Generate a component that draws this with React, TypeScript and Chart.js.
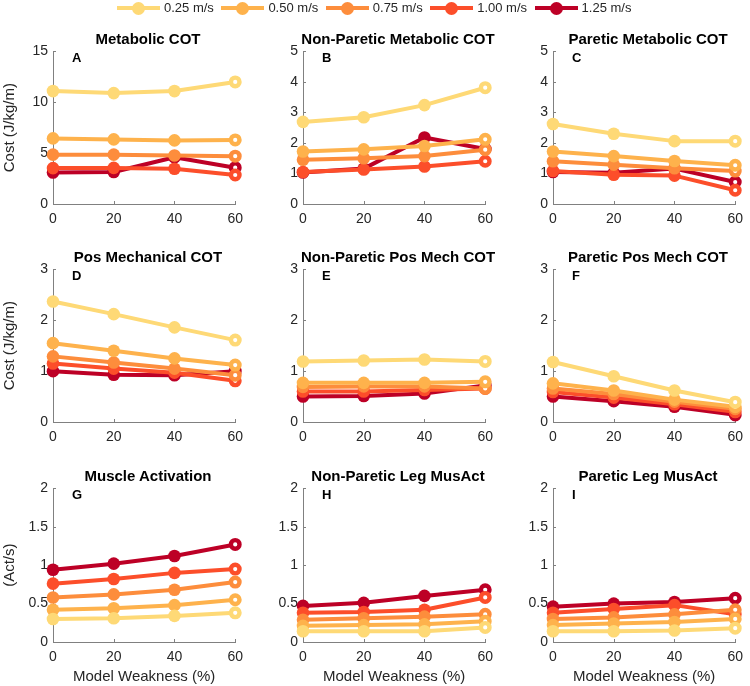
import React, { useEffect, useRef } from "react";
import { Chart, registerables } from "chart.js";
Chart.register(...registerables);

// ---------- data ----------
const weakness = [0, 20, 40, 60];
const speeds = ["0.25 m/s", "0.50 m/s", "0.75 m/s", "1.00 m/s", "1.25 m/s"];
const colors = ["#fed976", "#feb24c", "#fd8d3c", "#fc4e2a", "#bd0026"];

// each: one row per speed (0.25 .. 1.25), values at weakness 0/20/40/60
const metabolicCOT = [
  [11.1, 10.9, 11.1, 12.0],
  [6.45, 6.35, 6.25, 6.3],
  [4.85, 4.85, 4.77, 4.7],
  [3.53, 3.55, 3.47, 2.85],
  [3.1, 3.15, 4.6, 3.57],
];
const nonPareticMetCOT = [
  [2.69, 2.84, 3.24, 3.81],
  [1.72, 1.79, 1.9, 2.12],
  [1.45, 1.5, 1.57, 1.78],
  [1.05, 1.13, 1.23, 1.4],
  [1.03, 1.16, 2.18, 1.8],
];
const pareticMetCOT = [
  [2.62, 2.3, 2.06, 2.06],
  [1.72, 1.57, 1.41, 1.27],
  [1.4, 1.29, 1.17, 1.08],
  [1.08, 0.96, 0.93, 0.45],
  [1.05, 1.02, 1.16, 0.72],
];
const posMechCOT = [
  [2.37, 2.12, 1.86, 1.61],
  [1.55, 1.4, 1.25, 1.12],
  [1.29, 1.17, 1.05, 0.92],
  [1.15, 1.05, 0.97, 0.81],
  [1.0, 0.93, 0.92, 1.0],
];
const nonPareticPosMech = [
  [1.19, 1.21, 1.23, 1.19],
  [0.77, 0.77, 0.77, 0.79],
  [0.69, 0.7, 0.7, 0.66],
  [0.6, 0.6, 0.63, 0.66],
  [0.5, 0.51, 0.56, 0.72],
];
const pareticPosMech = [
  [1.18, 0.9, 0.62, 0.39],
  [0.76, 0.62, 0.44, 0.3],
  [0.66, 0.55, 0.4, 0.26],
  [0.59, 0.48, 0.35, 0.2],
  [0.5, 0.41, 0.3, 0.14],
];
const muscleActivation = [
  [0.3, 0.31, 0.34, 0.38],
  [0.42, 0.44, 0.48, 0.55],
  [0.58, 0.62, 0.68, 0.78],
  [0.76, 0.82, 0.9, 0.95],
  [0.94, 1.02, 1.12, 1.27],
];
const nonPareticMusAct = [
  [0.14, 0.14, 0.14, 0.19],
  [0.21, 0.22, 0.23, 0.27],
  [0.29, 0.31, 0.33, 0.36],
  [0.38, 0.39, 0.42, 0.58],
  [0.47, 0.51, 0.6, 0.68],
];
const pareticMusAct = [
  [0.14, 0.14, 0.15, 0.18],
  [0.22, 0.24, 0.26, 0.3],
  [0.3, 0.32, 0.36, 0.42],
  [0.38, 0.43, 0.48, 0.36],
  [0.46, 0.5, 0.52, 0.57],
];

const panelTitles = [
  "Metabolic COT", "Non-Paretic Metabolic COT", "Paretic Metabolic COT",
  "Pos Mechanical COT", "Non-Paretic Pos Mech COT", "Paretic Pos Mech COT",
  "Muscle Activation", "Non-Paretic Leg MusAct", "Paretic Leg MusAct",
];
const panelLetters = ["A", "B", "C", "D", "E", "F", "G", "H", "I"];
const panelSeries = [
  metabolicCOT, nonPareticMetCOT, pareticMetCOT,
  posMechCOT, nonPareticPosMech, pareticPosMech,
  muscleActivation, nonPareticMusAct, pareticMusAct,
];
const yMax = [15, 5, 5, 3, 3, 3, 2, 2, 2];
const yStep = [5, 1, 1, 1, 1, 1, 0.5, 0.5, 0.5];
const rowYTitles = ["Cost (J/kg/m)", "Cost (J/kg/m)", "(Act/s)"];
const xTitle = "Model Weakness (%)";

// ---------- layout ----------
const FONT = "'Liberation Sans', Arial, Helvetica, sans-serif";
const ROW_TOPS = [50, 268, 487];
const PLOT_H = [154, 154, 155];
const COL_W = 250;
const PAD_TOP = 12;
const Y_AXIS_W = 53;
const PAD_RIGHT = 7;
const TEXT = "#262626";
const AXIS = "#808080";

const inwardTicks = {
  id: "inwardTicks",
  beforeDatasetsDraw(chart: any) {
    const { ctx, chartArea, scales } = chart;
    ctx.save();
    ctx.strokeStyle = AXIS;
    ctx.lineWidth = 1;
    ctx.beginPath();
    scales.x.ticks.forEach((t: any) => {
      const px = Math.round(scales.x.getPixelForValue(t.value)) + 0.5;
      ctx.moveTo(px, chartArea.bottom);
      ctx.lineTo(px, chartArea.bottom - 3);
    });
    scales.y.ticks.forEach((t: any) => {
      const py = Math.round(scales.y.getPixelForValue(t.value)) + 0.5;
      ctx.moveTo(chartArea.left, py);
      ctx.lineTo(chartArea.left + 3, py);
    });
    ctx.stroke();
    ctx.restore();
  },
};

function Panel({ idx }: { idx: number }) {
  const ref = useRef<HTMLCanvasElement>(null);
  const row = Math.floor(idx / 3);
  const col = idx % 3;
  const canvasTop = ROW_TOPS[row] - PAD_TOP;
  const canvasH = row === 2 ? 686 - canvasTop : PLOT_H[row] + PAD_TOP + 40;
  const xAxisH = canvasH - PAD_TOP - PLOT_H[row];

  useEffect(() => {
    const series = panelSeries[idx];
    const last = weakness.length - 1;
    const chart = new Chart(ref.current as HTMLCanvasElement, {
      type: "line",
      data: {
        datasets: series.map((vals, i) => ({
          label: speeds[i],
          data: weakness.map((x, j) => ({ x, y: vals[j] })),
          borderColor: colors[i],
          backgroundColor: colors[i],
          borderWidth: 4,
          borderJoinStyle: "round" as const,
          borderCapStyle: "round" as const,
          pointRadius: weakness.map((_, j) => (j === last ? 4.3 : 6.3)),
          pointBorderWidth: weakness.map((_, j) => (j === last ? 4.4 : 0)),
          pointBackgroundColor: weakness.map((_, j) => (j === last ? "#ffffff" : colors[i])),
          pointBorderColor: colors[i],
          clip: false as any,
          tension: 0,
        })),
      },
      options: {
        responsive: false,
        animation: false,
        events: [],
        layout: { padding: { left: 0, right: PAD_RIGHT, top: PAD_TOP, bottom: 0 } },
        plugins: { legend: { display: false }, tooltip: { enabled: false } },
        scales: {
          x: {
            type: "linear",
            min: 0,
            max: 60,
            afterFit: (s: any) => { s.height = xAxisH; },
            ticks: { stepSize: 20, padding: 7, color: TEXT, font: { family: FONT, size: 14 }, maxRotation: 0 },
            grid: { display: true, drawOnChartArea: false, drawTicks: false },
            border: { display: true, color: AXIS, width: 1 },
            title: {
              display: row === 2,
              text: xTitle,
              color: TEXT,
              font: { family: FONT, size: 15 },
              padding: { top: 0, bottom: 0 },
            },
          },
          y: {
            type: "linear",
            min: 0,
            max: yMax[idx],
            afterFit: (s: any) => { s.width = Y_AXIS_W; },
            ticks: {
              stepSize: yStep[idx],
              padding: 5,
              color: TEXT,
              font: { family: FONT, size: 14 },
              callback: (v: any) => String(v),
            },
            grid: { display: true, drawOnChartArea: false, drawTicks: false },
            border: { display: true, color: AXIS, width: 1 },
            title: {
              display: col === 0,
              text: rowYTitles[row],
              color: TEXT,
              font: { family: FONT, size: 15 },
              padding: { top: 1, bottom: 0 },
            },
          },
        },
      },
      plugins: [inwardTicks],
    } as any);
    return () => chart.destroy();
  }, []);

  const plotLeft = col * COL_W + Y_AXIS_W;
  const plotW = COL_W - Y_AXIS_W - PAD_RIGHT;
  return (
    <>
      <canvas
        ref={ref}
        width={COL_W}
        height={canvasH}
        style={{ position: "absolute", left: col * COL_W, top: canvasTop, width: COL_W, height: canvasH }}
      />
      <div
        style={{
          position: "absolute",
          left: plotLeft - 40,
          width: plotW + 80,
          top: ROW_TOPS[row] - 20,
          height: 18,
          lineHeight: "18px",
          textAlign: "center",
          fontFamily: FONT,
          fontWeight: "bold",
          fontSize: 15,
          color: "#000",
          whiteSpace: "nowrap",
        }}
      >
        {panelTitles[idx]}
      </div>
      <div
        style={{
          position: "absolute",
          left: plotLeft + 19,
          top: ROW_TOPS[row] + 1,
          lineHeight: "14px",
          fontFamily: FONT,
          fontWeight: "bold",
          fontSize: 13,
          color: "#000",
        }}
      >
        {panelLetters[idx]}
      </div>
    </>
  );
}

function Legend() {
  return (
    <>
      {speeds.map((s, i) => {
        const left = 117 + i * 104.4;
        return (
          <div key={s} style={{ position: "absolute", left, top: 0, height: 16 }}>
            <div style={{ position: "absolute", left: 0, top: 6, width: 43, height: 4, background: colors[i] }} />
            <div
              style={{
                position: "absolute",
                left: 15,
                top: 1.5,
                width: 13,
                height: 13,
                borderRadius: "50%",
                background: colors[i],
              }}
            />
            <div
              style={{
                position: "absolute",
                left: 47,
                top: 0,
                lineHeight: "16px",
                fontFamily: FONT,
                fontSize: 13,
                color: TEXT,
                whiteSpace: "nowrap",
              }}
            >
              {s}
            </div>
          </div>
        );
      })}
    </>
  );
}

export default function App() {
  return (
    <div style={{ position: "absolute", left: 0, top: 0, width: 750, height: 686, background: "#fff", overflow: "hidden" }}>
      {panelTitles.map((_, i) => (
        <Panel key={i} idx={i} />
      ))}
      <Legend />
    </div>
  );
}
